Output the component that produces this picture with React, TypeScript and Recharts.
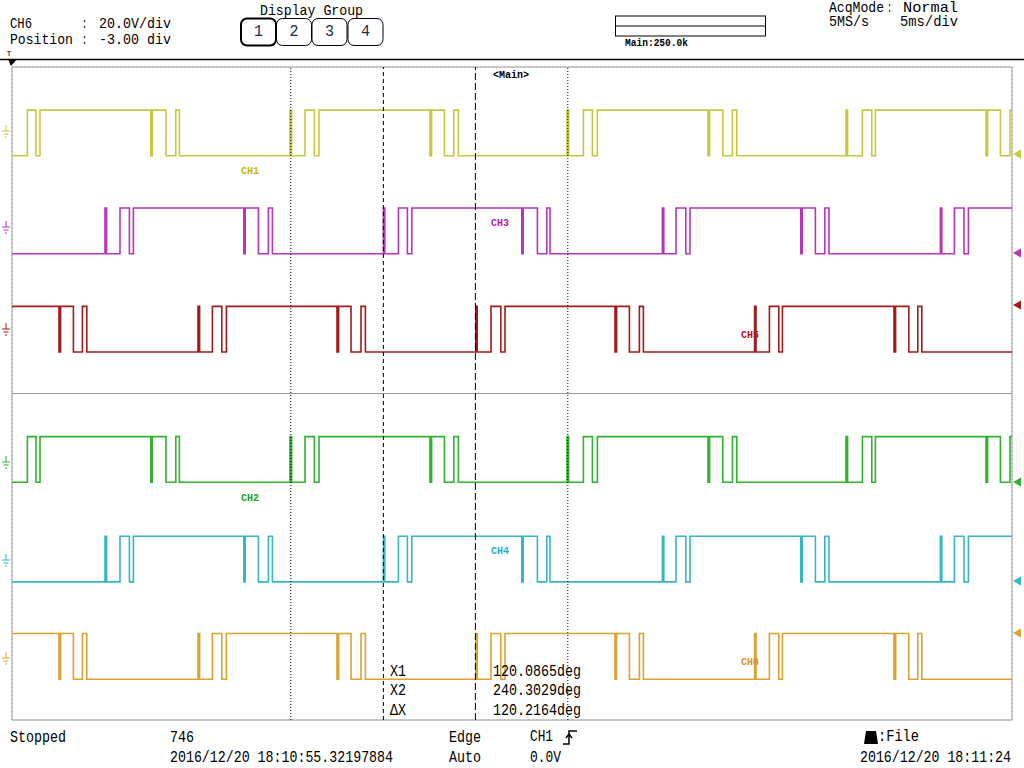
import { LineChart, Line, XAxis, YAxis, CartesianGrid, ReferenceLine } from 'recharts';

// time axis: 5 ms/div, 10 div across the screen
const timeTicks = [0, 5, 10, 15, 20, 25, 30, 35, 40, 45, 50];
// vertical grid: 2 windows x 10 rows
const rowTicks = [0, 1, 2, 3, 4, 5, 6, 7, 8, 9, 10, 11, 12, 13, 14, 15, 16, 17, 18, 19, 20];

// edge times (ms); the logic level toggles at each edge
const ch1Edges = [0.77, 1.2, 1.4, 6.94, 7.01, 7.7, 8.19, 8.37, 13.9, 13.98, 14.65, 15.12, 15.35, 20.9, 20.98, 21.62, 22.09, 22.32, 27.75, 27.83, 28.57, 29.02, 29.27, 34.8, 34.88, 35.54, 36.02, 36.24, 41.7, 41.78, 42.52, 42.99, 43.17, 48.7, 48.78, 49.42, 49.9];
const ch3Edges = [4.65, 4.73, 5.4, 5.87, 6.07, 11.59, 11.66, 12.32, 12.82, 13.02, 18.57, 18.64, 19.32, 19.77, 19.99, 25.49, 25.56, 26.27, 26.74, 26.9, 32.52, 32.59, 33.2, 33.69, 33.9, 39.44, 39.51, 40.17, 40.64, 40.85, 46.42, 46.49, 47.12, 47.6, 47.82];
const ch5Edges = [2.35, 2.43, 3.07, 3.52, 3.74, 9.3, 9.38, 10.02, 10.49, 10.72, 16.25, 16.33, 16.95, 17.45, 17.67, 23.19, 23.26, 23.95, 24.44, 24.65, 30.15, 30.23, 30.87, 31.37, 31.57, 37.13, 37.2, 37.87, 38.34, 38.52, 44.1, 44.18, 44.84, 45.29, 45.49];
// lower window shows the same phases
const ch2Edges = ch1Edges;
const ch4Edges = ch3Edges;
const ch6Edges = ch5Edges;

const channelNames = ['CH1', 'CH3', 'CH5', 'CH2', 'CH4', 'CH6'];
const channelEdges = [ch1Edges, ch3Edges, ch5Edges, ch2Edges, ch4Edges, ch6Edges];
const startLevels = [0, 0, 1, 0, 0, 1];
const lowLevels = [17.28, 14.28, 11.27, 7.28, 4.23, 1.25]; // div from bottom
const swing = 1.4;
const lineColors = ['#c8c840', '#b834b8', '#a41a1a', '#2eb42e', '#36b8c2', '#dea232'];
const labelColors = ['#c8b800', '#b020b0', '#b01414', '#20a020', '#20b0c0', '#d89020'];

// cursors (ms)
const cursorX = [13.94, 18.57, 23.17, 27.79];

function stepData(edges: number[], start: number, low: number) {
  let v = start;
  const pts = [{ t: 0, y: low + v * swing }];
  edges.forEach((t) => {
    v = 1 - v;
    pts.push({ t, y: low + v * swing });
  });
  pts.push({ t: 50, y: low + v * swing });
  return pts;
}

const FONT = 'Liberation Mono, DejaVu Sans Mono, monospace';

function T({ x, y, w, children, size = 16, weight = 400, fill = '#000', anchor = 'start' }: any) {
  return (
    <text
      x={x}
      y={y}
      fontSize={size}
      fontWeight={weight}
      fill={fill}
      fontFamily={FONT}
      textAnchor={anchor}
      dominantBaseline="central"
      textLength={w}
      lengthAdjust="spacingAndGlyphs"
    >
      {children}
    </text>
  );
}

const labelPos = [
  [241, 171], [491, 223], [741, 335], [241, 498], [491, 551], [741, 662],
];
const groundY = [131, 227, 329, 462, 560, 658];
const markerY = [154, 253, 305, 482, 581, 633];

function Overlay() {
  return (
    <svg width={1024} height={768} style={{ position: 'absolute', left: 0, top: 0, pointerEvents: 'none' }}>
      <T x={10} y={24} w={22} size={15}>CH6</T>
      <T x={82} y={24} w={5} size={15}>:</T>
      <T x={99} y={24} w={72} size={15}>20.0V/div</T>
      <T x={10} y={40} w={63} size={15}>Position</T>
      <T x={82} y={40} w={5} size={15}>:</T>
      <T x={99} y={40} w={72} size={15}>-3.00 div</T>

      <T x={260} y={11} w={103} size={15}>Display Group</T>
      {[241, 276.5, 312, 348].map((bx, i) => (
        <g key={i}>
          <rect x={bx} y={18.5} width={35} height={27} rx={6} fill="#fff" stroke="#000" strokeWidth={i === 0 ? 2 : 1} />
          <T x={bx + 17.5} y={32} w={9} fill="#1c2c4c" anchor="middle">{String(i + 1)}</T>
        </g>
      ))}

      <rect x={615.5} y={16} width={150} height={20} fill="none" stroke="#000" />
      <line x1={615.5} x2={765.5} y1={26} y2={26} stroke="#000" />
      <T x={625} y={43.5} w={63} size={10} weight={700}>Main:250.0k</T>

      <T x={829} y={8} w={55} size={15}>AcqMode</T>
      <T x={887} y={8} w={5} size={15}>:</T>
      <T x={903} y={8} w={55} size={15}>Normal</T>
      <T x={829} y={22} w={40} size={15}>5MS/s</T>
      <T x={900} y={22} w={58} size={15}>5ms/div</T>

      <line x1={0} x2={1024} y1={59.5} y2={59.5} stroke="#000" strokeWidth={1.5} />
      <T x={6.5} y={53} w={5} size={8}>T</T>
      <path d="M8,59 L17,59 L11,66 Z" fill="#000" />

      <T x={493} y={75} w={36} size={10} weight={700}>{'<Main>'}</T>

      {channelNames.map((n, i) => (
        <T key={n} x={labelPos[i][0]} y={labelPos[i][1]} w={18} size={11} weight={700} fill={labelColors[i]}>{n}</T>
      ))}

      {groundY.map((gy, i) => (
        <g key={i} stroke={lineColors[i]} strokeWidth={1}>
          <line x1={6} x2={6} y1={gy - 6} y2={gy} />
          <line x1={2} x2={10} y1={gy} y2={gy} />
          <line x1={3.5} x2={8.5} y1={gy + 3} y2={gy + 3} />
          <line x1={5} x2={7} y1={gy + 6} y2={gy + 6} />
        </g>
      ))}
      {markerY.map((my, i) => (
        <path key={i} d={`M1013,${my} L1021,${my - 4.5} L1021,${my + 4.5} Z`} fill={lineColors[i]} />
      ))}

      <T x={390} y={672} w={16}>X1</T>
      <T x={390} y={691} w={16}>X2</T>
      <T x={390} y={711} w={16}>ΔX</T>
      <T x={493} y={672} w={88}>120.0865deg</T>
      <T x={493} y={691} w={88}>240.3029deg</T>
      <T x={493} y={711} w={88}>120.2164deg</T>

      <T x={10} y={738} w={56}>Stopped</T>
      <T x={170} y={738} w={24}>746</T>
      <T x={170} y={758} w={223}>2016/12/20 18:10:55.32197884</T>
      <T x={449} y={738} w={32}>Edge</T>
      <T x={449} y={758} w={32}>Auto</T>
      <T x={530} y={737} w={23}>CH1</T>
      <path d="M563,744 L569,744 L569,731 L577,731 M566,738 L569,734 L572,738" fill="none" stroke="#000" strokeWidth={1.5} />
      <T x={530} y={758} w={31}>0.0V</T>
      <path d="M864,744 L878,744 L876,731 L866,731 Z" fill="#000" />
      <T x={878} y={737} w={41}>:File</T>
      <T x={860} y={758} w={151}>2016/12/20 18:11:24</T>
    </svg>
  );
}

export default function App() {
  return (
    <div style={{ position: 'absolute', left: 0, top: 0, width: 1024, height: 768, background: '#fff' }}>
      <LineChart width={1024} height={768} margin={{ top: 67, right: 12, bottom: 48, left: 12 }}>
        <CartesianGrid stroke="#b4b4b4" strokeDasharray="1 3" />
        <XAxis
          dataKey="t"
          type="number"
          domain={[0, 50]}
          ticks={timeTicks}
          allowDataOverflow
          tick={false}
          tickLine={false}
          axisLine={false}
          height={0}
        />
        <YAxis type="number" domain={[0, 20]} ticks={rowTicks} tick={false} tickLine={false} axisLine={false} width={0} />
        <ReferenceLine x={0} stroke="#9a9a9a" />
        <ReferenceLine x={50} stroke="#9a9a9a" />
        <ReferenceLine y={20} stroke="#9a9a9a" />
        <ReferenceLine y={0} stroke="#9a9a9a" />
        <ReferenceLine y={10} stroke="#9a9a9a" />
        {channelNames.map((n, i) => (
          <Line
            key={n}
            data={stepData(channelEdges[i], startLevels[i], lowLevels[i])}
            dataKey="y"
            type="stepAfter"
            stroke={lineColors[i]}
            strokeWidth={1.6}
            dot={false}
            isAnimationActive={false}
          />
        ))}
        <ReferenceLine x={cursorX[0]} stroke="#000" strokeDasharray="1 2" />
        <ReferenceLine x={cursorX[1]} stroke="#000" strokeDasharray="4 3" />
        <ReferenceLine x={cursorX[2]} stroke="#000" strokeDasharray="7 3" />
        <ReferenceLine x={cursorX[3]} stroke="#000" strokeDasharray="1 2" />
      </LineChart>
      <Overlay />
    </div>
  );
}
